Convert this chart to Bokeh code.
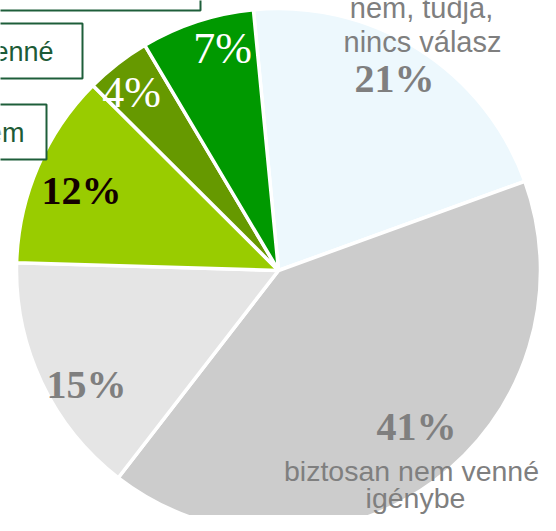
import math
from bokeh.plotting import figure
from bokeh.models import Range1d, ColumnDataSource
from bokeh.embed import file_html
from bokeh.resources import INLINE
from bokeh.core.properties import value

# ---------------- data ----------------
categories = [
    "nem, tudja, nincs válasz",
    "biztosan nem venné igénybe",
    "valószínűleg nem venné igénybe",
    "már igénybe vettem",
    "valószínűleg igénybe venné",
    "biztosan igénybe venné",
]
shares = [21, 41, 15, 12, 4, 7]
pct_labels = ["21%", "41%", "15%", "12%", "4%", "7%"]
slice_colors = ["#EDF8FD", "#CCCCCC", "#E5E5E5", "#99CC00", "#669900", "#009900"]

# ---------------- layout (picture pixel coordinates) ----------------
W, H = 540, 515
CX, CY = 278, 270        # pie centre
R = 262
START_CW = -5.5          # first slice starts this many degrees clockwise from 12 o'clock
BASE_SHIFT = 0.33        # renderer places 'alphabetic' baseline this many em too low

def Y(v):
    return -v

def text_y(baseline, size_px):
    return Y(baseline - BASE_SHIFT * size_px)

# cumulative angles
total = float(sum(shares))
starts, ends = [], []
c = START_CW
for s in shares:
    a0 = c
    c = c + s / total * 360.0
    starts.append(math.radians(90.0 - a0))
    ends.append(math.radians(90.0 - c))

p = figure(width=W, height=H,
           x_range=Range1d(0, W), y_range=Range1d(-H, 0),
           output_backend="svg", toolbar_location=None, min_border=0)
p.axis.visible = False
p.grid.visible = False
p.outline_line_color = None
p.background_fill_color = "white"
p.border_fill_color = "white"

src = ColumnDataSource(dict(cat=categories, share=shares, start=starts, end=ends, color=slice_colors))
p.wedge(x=CX, y=Y(CY), radius=R, start_angle="start", end_angle="end", direction="clock",
        fill_color="color", line_color="white", line_width=3.5, source=src)

# percentage labels
pct_pos = {  # centre x, baseline y
    "21%": (394, 91), "41%": (416, 439), "15%": (86, 397),
    "12%": (81, 203), "4%": (131, 107), "7%": (222, 63),
}
pct_colors = {"21%": "#7F7F7F", "41%": "#7F7F7F", "15%": "#7F7F7F",
              "12%": "#140000", "4%": "white", "7%": "white"}
bold_set = ["21%", "41%", "15%", "12%"]
for lab in pct_labels:
    x, y = pct_pos[lab]
    is_bold = lab in bold_set
    fs = 40 if is_bold else 44
    p.text(x=[x], y=[text_y(y, fs)], text=[lab], text_font=value("Liberation Serif"),
           text_font_size=value(f"{fs}px"),
           text_font_style="bold" if is_bold else "normal",
           text_align="center", text_baseline="alphabetic", text_color=pct_colors[lab])

# category labels inside/near the pie
cat_lines = [
    ("nem, tudja,", 421, 17, 29),
    ("nincs válasz", 422, 51, 29),
    ("biztosan nem venné", 411, 480, 28.5),
    ("igénybe", 415, 507, 28.5),
]
for t, x, y, fs in cat_lines:
    p.text(x=[x], y=[text_y(y, fs)], text=[t], text_font=value("Liberation Sans"),
           text_font_size=value(f"{fs}px"), text_align="center", text_baseline="alphabetic",
           text_color="#7F7F7F")

# boxed callout labels (cropped at the left edge)
boxes = [  # left, right, top, bottom
    (-300, 200, -60, 10),
    (-300, 82, 23, 78),
    (-300, 46, 104, 159),
]
for l, r, t, b in boxes:
    p.quad(left=[l], right=[r], top=[Y(t)], bottom=[Y(b)], fill_color="white",
           line_color="#1E5E3A", line_width=2)

box_texts = [
    (categories[4], 53, 60),
    (categories[3], 24, 141),
]
for t, x, y in box_texts:
    p.text(x=[x], y=[text_y(y, 27)], text=[t], text_font=value("Liberation Sans"),
           text_font_size=value("27px"), text_align="right", text_baseline="alphabetic",
           text_color="#1D5B36")

open("out.html", "w").write(file_html(p, INLINE))
